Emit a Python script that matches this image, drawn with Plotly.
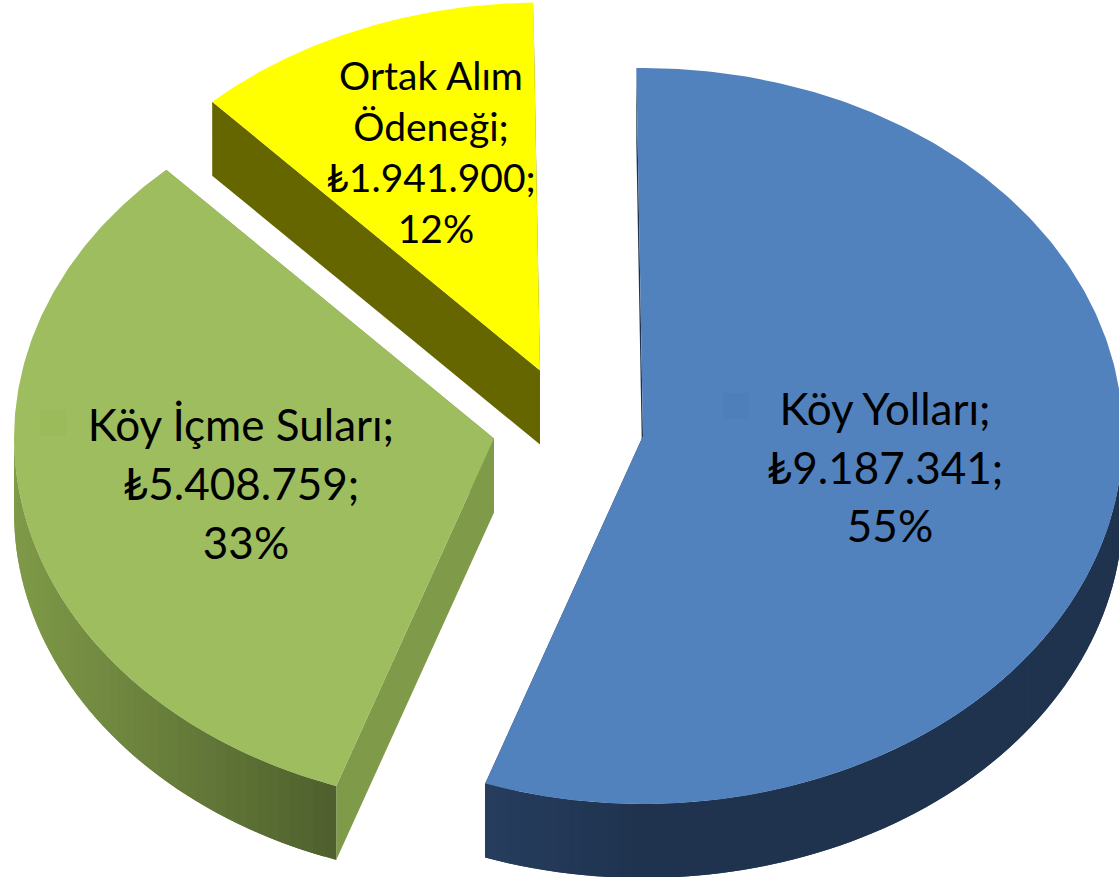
import numpy as np
import plotly.graph_objects as go

# --- data ---
categories = ["Köy Yolları", "Köy İçme Suları", "Ortak Alım Ödeneği"]
values = [9187341, 5408759, 1941900]
value_labels = ["₺9.187.341;", "₺5.408.759;", "₺1.941.900;"]
percent_labels = ["55%", "33%", "12%"]

# --- geometry / style ---
W, H = 1119, 877
RX, RY, DEPTH = 480, 368, 74
START_DEG = -0.8
PERCENT_NUDGE = 5
apex = [(643, 436), (494, 438.5), (540, 370.5)]
top_col = ["#5282BE", "#9DBD5E", "#FFFF00"]
wall_col = ["#1F334E", "#7F9A48", "#666600"]
rim_grad = [((489, "#263D5E"), (640, "#1F334E")),
            ((13, "#7F9A48"), (338, "#4E5F2D")),
            ((211, "#666600"), (212, "#666600"))]
label_lines = [["Köy Yolları;", value_labels[0], percent_labels[0]],
               ["Köy İçme Suları;", value_labels[1], percent_labels[1]],
               ["Ortak Alım", "Ödeneği;", value_labels[2], percent_labels[2]]]
label_pos = [(885, 414, 58.5, 44), (241, 429.5, 59, 44), (431, 80.5, 51, 39)]
key_pos = [(736, 406, "#4F7FBB"), (53, 423, "#9BBB5B")]
FONT = "Lato, Carlito, 'Noto Sans', sans-serif"

total = sum(values)
sweeps = [v / total * 360 for v in values]
starts = START_DEG + np.cumsum([0] + sweeps[:-1])


def rim(i, a0, a1, n=2):
    """Points on the rim of slice i; angles clockwise from 12 o'clock."""
    t = np.radians(np.linspace(a0, a1, n))
    return apex[i][0] + RX * np.sin(t), apex[i][1] - RY * np.cos(t)


def hex2rgb(h):
    return np.array([int(h[k:k + 2], 16) for k in (1, 3, 5)], float)


def grad(i, x):
    (x0, c0), (x1, c1) = rim_grad[i]
    f = np.clip((x - x0) / (x1 - x0), 0, 1)
    c = hex2rgb(c0) * (1 - f) + hex2rgb(c1) * f
    return "rgb(%d,%d,%d)" % tuple(c.round())


fig = go.Figure()


def poly(xs, ys, color):
    fig.add_trace(go.Scatter(x=list(xs), y=list(ys), mode="lines", fill="toself",
                             fillcolor=color, line=dict(width=0),
                             hoverinfo="skip", showlegend=False))


for i in [2, 1, 0]:
    a0, a1 = starts[i], starts[i] + sweeps[i]
    ax, ay = apex[i]
    # flat cut walls
    for ang in (a0, a1):
        rx, ry = rim(i, ang, ang)
        rx, ry = rx[0], ry[0]
        poly([ax, rx, rx, ax], [ay, ry, ry + DEPTH, ay + DEPTH], wall_col[i])
    # curved outer wall (front-facing part only); each shaded strip runs on under the next
    v0, v1 = max(a0, 90), min(a1, 270)
    if v1 > v0:
        edges = np.linspace(v0, v1, int((v1 - v0) / 1.5) + 2)
        for k in range(len(edges) - 1):
            e0, e1 = edges[k], edges[min(k + 2, len(edges) - 1)]
            xs, ys = rim(i, e0, e1, 5)
            mid_x, _ = rim(i, edges[k], edges[k + 1], 3)
            poly(np.r_[xs, xs[::-1]], np.r_[ys, ys[::-1] + DEPTH], grad(i, mid_x.mean()))
    # top face
    xs, ys = rim(i, a0, a1, 240)
    poly(np.r_[ax, xs], np.r_[ay, ys], top_col[i])

# legend keys inside the labels
for kx, ky, kc in key_pos:
    fig.add_trace(go.Scatter(x=[kx], y=[ky], mode="markers", hoverinfo="skip", showlegend=False,
                             marker=dict(symbol="square", size=26, color=kc, line=dict(width=0))))

# data labels
for i, lines in enumerate(label_lines):
    lx, ly, step, size = label_pos[i]
    n = len(lines)
    fig.add_trace(go.Scatter(x=[lx + (PERCENT_NUDGE if k == n - 1 else 0) for k in range(n)],
                             y=[ly + k * step for k in range(n)],
                             mode="text", text=lines, textposition="middle center",
                             textfont=dict(family=FONT, size=size, color="black"),
                             name=categories[i], hoverinfo="skip", showlegend=False))

fig.update_layout(width=W, height=H, margin=dict(l=0, r=0, t=0, b=0), autosize=False,
                  paper_bgcolor="white", plot_bgcolor="white", showlegend=False,
                  xaxis=dict(range=[0, W], visible=False, fixedrange=True),
                  yaxis=dict(range=[H, 0], visible=False, fixedrange=True))
fig.write_html("out.html", config=dict(displayModeBar=False),
               post_script="document.body.style.margin='0';document.body.style.overflow='hidden';")
